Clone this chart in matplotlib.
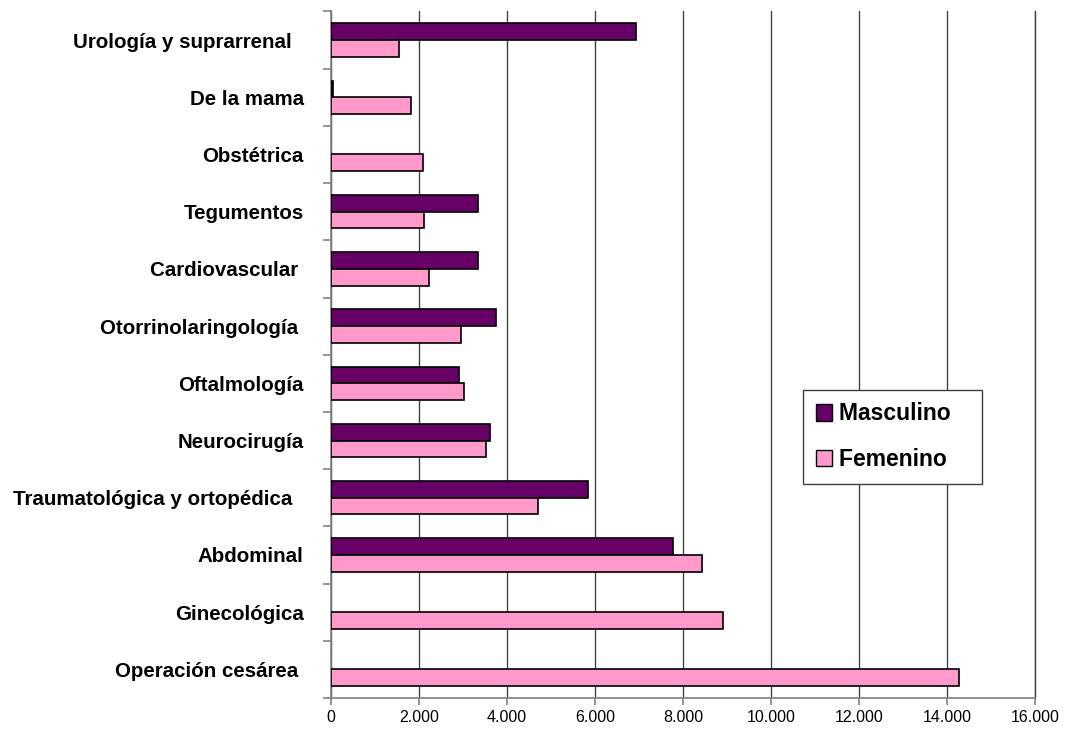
import matplotlib
matplotlib.use("Agg")
import matplotlib.pyplot as plt
import numpy as np
from matplotlib.ticker import FuncFormatter, MultipleLocator
from matplotlib.patches import Patch

plt.rcParams['font.family'] = ['Liberation Sans', 'DejaVu Sans']

# categorias de abajo hacia arriba
categorias = ["Operación cesárea ", "Ginecológica", "Abdominal",
              "Traumatológica y ortopédica  ", "Neurocirugía", "Oftalmología",
              "Otorrinolaringología ", "Cardiovascular ", "Tegumentos",
              "Obstétrica", "De la mama", "Urología y suprarrenal  "]
masculino = [0, 0, 7786, 5841, 3613, 2916, 3757, 3340, 3340, 0, 40, 6932]
femenino = [14280, 8909, 8445, 4697, 3530, 3037, 2969, 2234, 2128, 2091, 1818, 1560]
series = ["Masculino", "Femenino"]

col_masc = "#660066"
col_fem = "#FF99CC"

fig = plt.figure(figsize=(10.67, 7.4), dpi=100)
ax = fig.add_axes([0.31, 0.0568, 0.66, 0.9277])

y = np.arange(len(categorias))
h = 0.292
# los ceros no se dibujan
m = np.where(np.array(masculino) > 0, masculino, np.nan)
f = np.where(np.array(femenino) > 0, femenino, np.nan)
ax.barh(y + h / 2, m, height=h, color=col_masc, edgecolor="black", linewidth=1.2, zorder=3)
ax.barh(y - h / 2, f, height=h, color=col_fem, edgecolor="black", linewidth=1.2, zorder=3)

ax.set_xlim(0, 16000)
ax.set_ylim(-0.5, len(categorias) - 0.5)
ax.xaxis.set_major_locator(MultipleLocator(2000))
ax.xaxis.set_major_formatter(FuncFormatter(lambda v, p: "{:,.0f}".format(v).replace(",", ".")))
ax.grid(axis="x", color="#444444", linewidth=1.0, zorder=0)
ax.axvline(16000, color="#444444", linewidth=1.0, zorder=0, clip_on=False)

ax.set_yticks(y)
ax.set_yticklabels(categorias, fontweight="bold", fontsize=14.8)
ax.set_yticks(np.arange(-0.5, len(categorias), 1.0), minor=True)
ax.tick_params(axis="y", which="major", length=0, pad=19.5)
ax.tick_params(axis="y", which="minor", length=6, color="#808080", width=1.2)
ax.tick_params(axis="x", length=5, color="#808080", width=1.2, labelsize=11.5, pad=4)

for s in ["top", "right"]:
    ax.spines[s].set_visible(False)
for s in ["left", "bottom"]:
    ax.spines[s].set_color("#808080")
    ax.spines[s].set_linewidth(1.2)

handles = [Patch(facecolor=col_masc, edgecolor="black"), Patch(facecolor=col_fem, edgecolor="black")]
leg = ax.legend(handles, [s + "   " for s in series], loc="upper left",
                bbox_to_anchor=(0.6706, 0.449), bbox_transform=ax.transAxes,
                prop={"weight": "bold", "size": 16.5}, fancybox=False, framealpha=1,
                edgecolor="#404040", borderpad=0.55, labelspacing=1.0,
                handlelength=0.73, handleheight=0.73, handletextpad=0.28,
                borderaxespad=0)
leg.get_frame().set_linewidth(1.0)

fig.savefig("out.png", dpi=100)
